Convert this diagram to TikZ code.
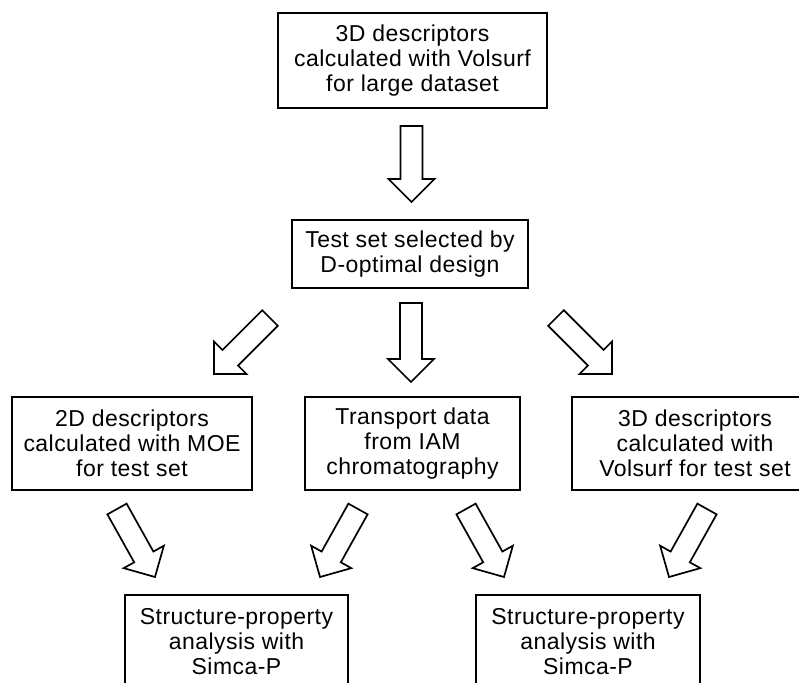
\documentclass[tikz,border=0pt]{standalone}
\usepackage{fontspec}
\setmainfont{Liberation Sans}[LetterSpace=2.0]
\usetikzlibrary{calc}
\newcommand\blockarr[2]{%
  \coordinate (hb) at ($(#2)!23pt!(#1)$);
  \draw[arrowline] ($(#1)!11pt!90:(#2)$) -- ($(hb)!11pt!90:(#2)$) -- ($(hb)!23pt!90:(#2)$) -- (#2)
    -- ($(hb)!23pt!-90:(#2)$) -- ($(hb)!11pt!-90:(#2)$) -- ($(#1)!11pt!-90:(#2)$) -- cycle;}
\tikzset{
  box/.style={draw, line width=2.2pt, rectangle, inner sep=0pt, align=center,
    font=\fontsize{23}{24.8}\selectfont},
  arrowline/.style={draw, line width=1.7pt, line join=miter, fill=white}
}
\begin{document}
\begin{tikzpicture}[x=1pt,y=-1pt]
\useasboundingbox (0,0) rectangle (799,682);
\clip (0,0) rectangle (799,682);
\fill[white] (0,0) rectangle (799,682);
% boxes
\node[box, minimum width=269pt, minimum height=95pt] (top) at (412.5,60.5)
  {3D descriptors\\calculated with Volsurf\\for large dataset};
\node[box, minimum width=236pt, minimum height=68pt] (test) at (410,254)
  {Test set selected by\\D-optimal design};
\node[box, minimum width=240pt, minimum height=93pt] (moe) at (132,443.5)
  {2D descriptors\\calculated with MOE\\for test set};
\node[box, minimum width=215pt, minimum height=93pt] (iam) at (412.5,443.5)
  {Transport data\\from IAM\\chromatography};
\node[box, minimum width=246pt, minimum height=93pt] (vs) at (695,443.5)
  {3D descriptors\\calculated with\\Volsurf for test set};
\node[box, minimum width=223pt, minimum height=93pt] (spa) at (236.5,641.5)
  {Structure-property\\analysis with\\Simca-P};
\node[box, minimum width=224pt, minimum height=93pt] (spb) at (588,641.5)
  {Structure-property\\analysis with\\Simca-P};
% arrow end points
\coordinate (a1t) at (411.5,126);
\coordinate (a1h) at (411.5,202);
\coordinate (a2t) at (411,303);
\coordinate (a2h) at (411,382);
\coordinate (a3t) at (270,318);
\coordinate (a3h) at (214,374);
\coordinate (a4t) at (556,318);
\coordinate (a4h) at (612,374);
\coordinate (a5t) at (117,509);
\coordinate (a5h) at (155,577);
\coordinate (a6t) at (358,509);
\coordinate (a6h) at (320,577);
\coordinate (a7t) at (466,509);
\coordinate (a7h) at (504,577);
\coordinate (a8t) at (707,509);
\coordinate (a8h) at (669,577);
\blockarr{a1t}{a1h}
\blockarr{a2t}{a2h}
\blockarr{a3t}{a3h}
\blockarr{a4t}{a4h}
\blockarr{a5t}{a5h}
\blockarr{a6t}{a6h}
\blockarr{a7t}{a7h}
\blockarr{a8t}{a8h}
\end{tikzpicture}
\end{document}
